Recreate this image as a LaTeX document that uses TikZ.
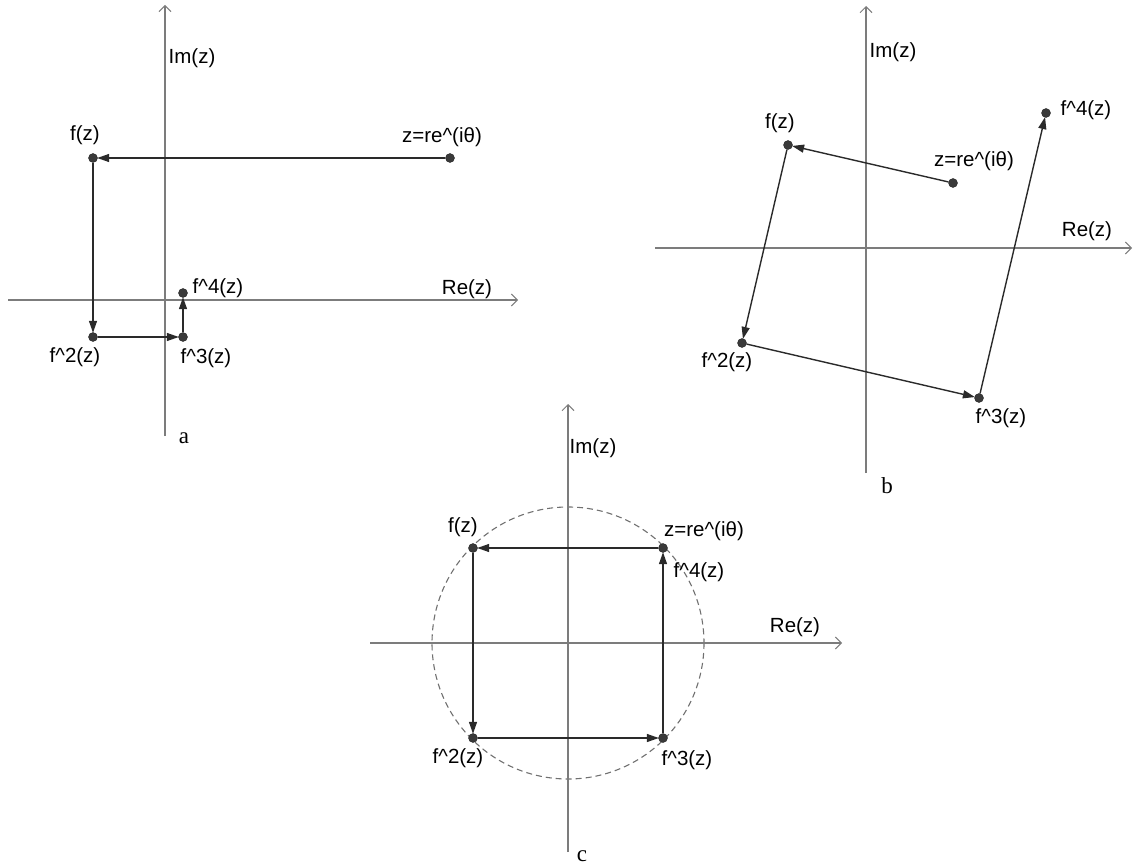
\documentclass[tikz,border=0pt]{standalone}
\usepackage{fontspec}
\setmainfont{Liberation Sans}
\newfontfamily\panelfont{Liberation Serif}
\usetikzlibrary{arrows.meta}
\definecolor{axisgray}{HTML}{7C7C7C}
\definecolor{conncol}{HTML}{2A2A2A}
\definecolor{dotcol}{HTML}{3A3A3A}
\tikzset{
  axis/.style={draw=axisgray, line width=1.1pt, -{Straight Barb[length=6pt,width=12pt,line width=1pt]}},
  conn/.style={draw=conncol, line width=1.4pt, -{Triangle[length=12pt,width=8pt]}, shorten >=-0.5pt},
  dot/.style={circle, fill=dotcol, draw=black!85, line width=0.4pt, minimum size=9pt, inner sep=0pt},
  lbl/.style={font=\fontsize{20.5}{24}\selectfont, text=black, inner sep=0pt},
  panel/.style={font=\panelfont\fontsize{23}{25}\selectfont, inner sep=0pt},
  circ/.style={draw=axisgray!90!black, line width=1.1pt, dash pattern=on 6pt off 4pt}
}
\begin{document}
\begin{tikzpicture}[x=1pt,y=-1pt]
\path[use as bounding box] (0,0) rectangle (1134,866);

% ---------------- panel a ----------------
\coordinate (aYb) at (165,436);
\coordinate (aYt) at (165,5);
\coordinate (aXl) at (8,300);
\coordinate (aXr) at (518,300);
\draw[axis] (aYb) -- (aYt);
\draw[axis] (aXl) -- (aXr);
\node[lbl] (aIm) at (192,58) {Im(z)};
\node[lbl] (aRe) at (467,289) {Re(z)};
\node[panel] (aName) at (184,438) {a};

\node[dot] (a0) at (450,158) {};
\node[dot] (a1) at (93,158) {};
\node[dot] (a2) at (93,337) {};
\node[dot] (a3) at (183,337) {};
\node[dot] (a4) at (183,293) {};
\node[lbl] (la0) at (442,137) {z=re\textasciicircum(iθ)};
\node[lbl] (la1) at (85,135) {f(z)};
\node[lbl] (la2) at (75,357) {f\textasciicircum2(z)};
\node[lbl] (la3) at (206,358) {f\textasciicircum3(z)};
\node[lbl] (la4) at (218,288) {f\textasciicircum4(z)};
\draw[conn] (a0) -- (a1);
\draw[conn] (a1) -- (a2);
\draw[conn] (a2) -- (a3);
\draw[conn] (a3) -- (a4);

% ---------------- panel b ----------------
\coordinate (bYb) at (866,473);
\coordinate (bYt) at (866,6);
\coordinate (bXl) at (655,248);
\coordinate (bXr) at (1132,248);
\draw[axis] (bYb) -- (bYt);
\draw[axis] (bXl) -- (bXr);
\node[lbl] (bIm) at (893,52) {Im(z)};
\node[lbl] (bRe) at (1087,231) {Re(z)};
\node[panel] (bName) at (887,486) {b};

\node[dot] (b0) at (953,183) {};
\node[dot] (b1) at (788,145) {};
\node[dot] (b2) at (742,343) {};
\node[dot] (b3) at (979,398) {};
\node[dot] (b4) at (1046,113) {};
\node[lbl] (lb0) at (974,161) {z=re\textasciicircum(iθ)};
\node[lbl] (lb1) at (780,123) {f(z)};
\node[lbl] (lb2) at (727,362) {f\textasciicircum2(z)};
\node[lbl] (lb3) at (1001,418) {f\textasciicircum3(z)};
\node[lbl] (lb4) at (1086,110) {f\textasciicircum4(z)};
\draw[conn] (b0) -- (b1);
\draw[conn] (b1) -- (b2);
\draw[conn] (b2) -- (b3);
\draw[conn] (b3) -- (b4);

% ---------------- panel c ----------------
\coordinate (cO) at (568,643);
\coordinate (cYb) at (568,852);
\coordinate (cYt) at (568,404);
\coordinate (cXl) at (370,643);
\coordinate (cXr) at (842,643);
\draw[circ] (cO) circle[radius=136];
\draw[axis] (cYb) -- (cYt);
\draw[axis] (cXl) -- (cXr);
\node[lbl] (cIm) at (593,448) {Im(z)};
\node[lbl] (cRe) at (795,627) {Re(z)};
\node[panel] (cName) at (582,856) {c};

\node[dot] (c0) at (663,548) {};
\node[dot] (c1) at (473,548) {};
\node[dot] (c2) at (473,738) {};
\node[dot] (c3) at (663,738) {};
\node[lbl] (lc0) at (704,531) {z=re\textasciicircum(iθ)};
\node[lbl] (lc1) at (463,527) {f(z)};
\node[lbl] (lc2) at (458,758) {f\textasciicircum2(z)};
\node[lbl] (lc3) at (687,760) {f\textasciicircum3(z)};
\node[lbl] (lc4) at (699,572) {f\textasciicircum4(z)};
\draw[conn] (c0) -- (c1);
\draw[conn] (c1) -- (c2);
\draw[conn] (c2) -- (c3);
\draw[conn] (c3) -- (c0);
\end{tikzpicture}
\end{document}
